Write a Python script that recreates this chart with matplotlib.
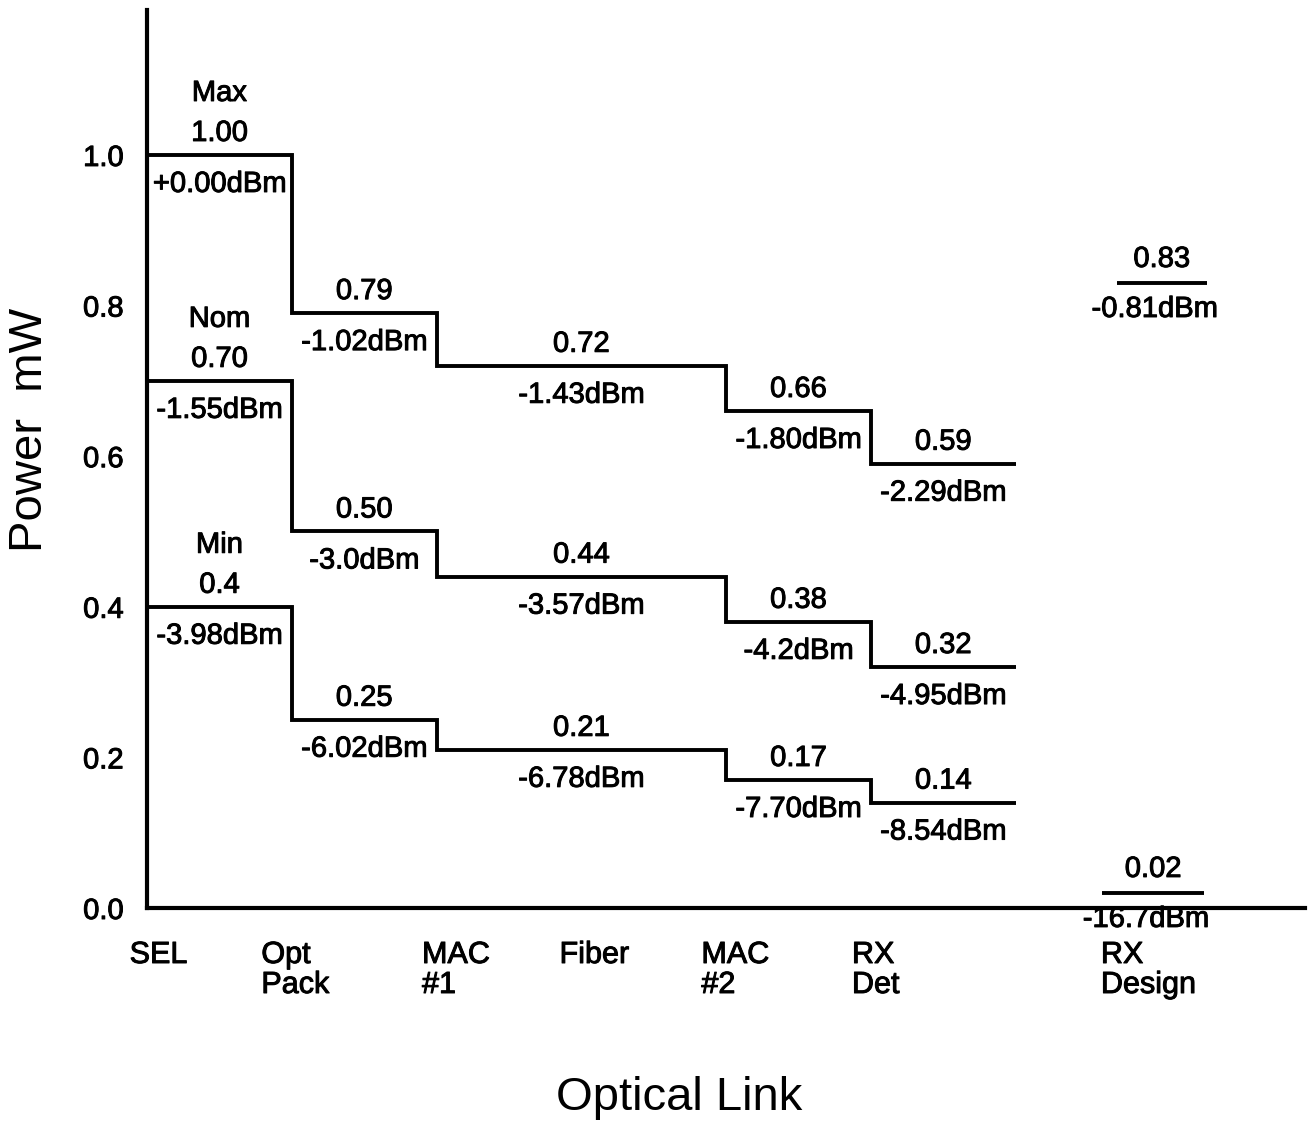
import numpy as np
import matplotlib.pyplot as plt
import matplotlib.patheffects as pe

plt.rcParams['font.family'] = ['Liberation Sans', 'DejaVu Sans']

# stage boundaries along the link (SEL .. RX Det)
edges = [0, 1, 2, 4, 5, 6]

max_vals = [1.00, 0.79, 0.72, 0.66, 0.59]
nom_vals = [0.70, 0.50, 0.44, 0.38, 0.32]
min_vals = [0.40, 0.25, 0.21, 0.17, 0.14]

max_txt = ['1.00', '0.79', '0.72', '0.66', '0.59']
nom_txt = ['0.70', '0.50', '0.44', '0.38', '0.32']
min_txt = ['0.4', '0.25', '0.21', '0.17', '0.14']

max_dbm = ['+0.00dBm', '-1.02dBm', '-1.43dBm', '-1.80dBm', '-2.29dBm']
nom_dbm = ['-1.55dBm', '-3.0dBm', '-3.57dBm', '-4.2dBm', '-4.95dBm']
min_dbm = ['-3.98dBm', '-6.02dBm', '-6.78dBm', '-7.70dBm', '-8.54dBm']

series_names = ['Max', 'Nom', 'Min']

# RX design requirement
rx_vals = [0.83, 0.02]
rx_txt = ['0.83', '0.02']
rx_dbm = ['-0.81dBm', '-16.7dBm']
rx_span = [(6.70, 7.32), (6.60, 7.30)]

categories = ['SEL', 'Opt\nPack', 'MAC\n#1', 'Fiber', 'MAC\n#2', 'RX\nDet', 'RX\nDesign']
cat_x = [-0.12, 0.79, 1.90, 2.85, 3.83, 4.87, 6.59]

yticks = [0.0, 0.2, 0.4, 0.6, 0.8, 1.0]

fig = plt.figure(figsize=(13.08, 11.25), dpi=100)
ax = fig.add_axes([147 / 1308, 217 / 1125, 1158 / 1308, 898 / 1125])

lw = 2.8
fs = 21
# photocopy look: slightly heavier strokes on the text
ink = [pe.withStroke(linewidth=0.7, foreground='black')]


def put(x, y, s, dy, **kw):
    ax.annotate(s, xy=(x, y), xytext=(0, dy), textcoords='offset pixels',
                ha='center', va='center', fontsize=fs, path_effects=ink,
                annotation_clip=False, **kw)


for name, vals, txt, dbm in zip(series_names, [max_vals, nom_vals, min_vals],
                                [max_txt, nom_txt, min_txt],
                                [max_dbm, nom_dbm, min_dbm]):
    ax.stairs(vals, edges, baseline=None, color='black', lw=lw)
    for i in range(len(vals)):
        xc = (edges[i] + edges[i + 1]) / 2
        put(xc, vals[i], txt[i], 22)
        put(xc, vals[i], dbm[i], -29)
    put(0.5, vals[0], name, 62)

for v, t, d, (x0, x1) in zip(rx_vals, rx_txt, rx_dbm, rx_span):
    ax.hlines(v, x0, x1, color='black', lw=lw)
    xc = (x0 + x1) / 2
    put(xc, v, t, 24)
    put(xc - 0.05, v, d, -26)

for c, x in zip(categories, cat_x):
    ax.annotate(c, xy=(x, 0), xytext=(0, -32), textcoords='offset pixels',
                ha='left', va='top', fontsize=22, linespacing=1.0,
                path_effects=ink, annotation_clip=False)

ax.set_xlim(0, 8)
ax.set_ylim(0, 1.1925)
ax.set_xticks([])
ax.set_yticks(yticks)
ax.set_yticklabels([f'{t:.1f}' for t in yticks], fontsize=fs, path_effects=ink)
ax.tick_params(axis='y', length=0, pad=17)
for s in ['top', 'right']:
    ax.spines[s].set_visible(False)
for s in ['left', 'bottom']:
    ax.spines[s].set_linewidth(3)

fig.text(30 / 1308, 1 - 430 / 1125, 'Power  mW', rotation=90, ha='center',
         va='center', fontsize=34)
fig.text(679 / 1308, 1 - 1098 / 1125, 'Optical Link', ha='center',
         va='center', fontsize=34)

fig.savefig('out.png', dpi=100)
